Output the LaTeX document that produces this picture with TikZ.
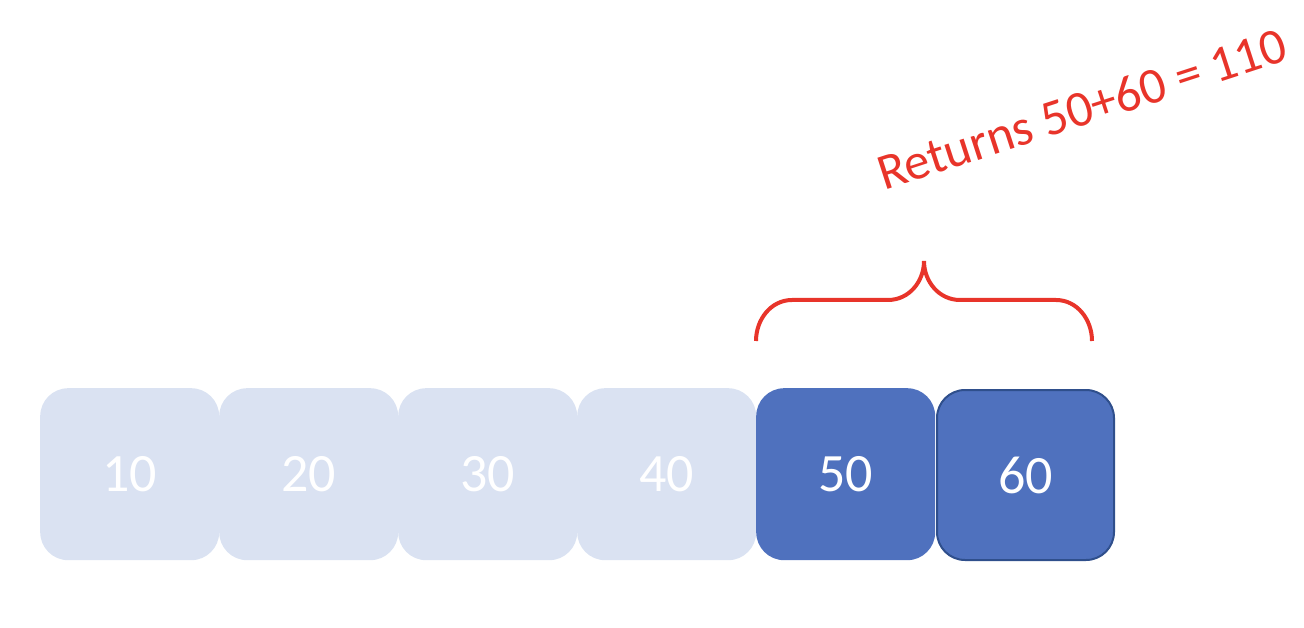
\documentclass[tikz,border=0pt]{standalone}
\usepackage{fontspec}
\setmainfont{Carlito}
\definecolor{lightbox}{HTML}{DAE2F2}
\definecolor{darkbox}{HTML}{4F71BE}
\definecolor{darkedge}{HTML}{2F4F8C}
\definecolor{redc}{HTML}{E8342A}
\begin{document}
\begin{tikzpicture}[x=1pt,y=-1pt,
  cell/.style={rectangle, rounded corners=28pt, minimum width=179pt, minimum height=172pt, inner sep=0pt, text=white, font=\fontsize{54}{60}\selectfont, anchor=north west},
  lightcell/.style={cell, fill=lightbox},
  darkcell/.style={cell, fill=darkbox},
  bracestyle/.style={draw=redc, line width=4pt},
  label/.style={text=redc, font=\fontsize{51}{56}\selectfont, anchor=base west, rotate=18, inner sep=0pt}]
\useasboundingbox (0,0) rectangle (1304,628);
\node[lightcell] (b10) at (40,388) {10};
\node[lightcell] (b20) at (219,388) {20};
\node[lightcell] (b30) at (398,388) {30};
\node[lightcell] (b40) at (577,388) {40};
\node[darkcell] (b50) at (756,388) {50};
\node[darkcell, draw=darkedge, line width=2pt, minimum width=177pt, minimum height=170pt] (b60) at (936,389) {60};
\coordinate (bl) at (756,341);
\coordinate (br) at (1092,341);
\coordinate (tip) at (924,261);
\draw[bracestyle] (bl) to[out=90,in=180] (792,300) -- (888,300) to[out=0,in=-90] (tip)
  to[out=-90,in=180] (960,300) -- (1056,300) to[out=0,in=90] (br);
\node[label] (ret) at (884,191) {Returns 50+60 = 110};
\end{tikzpicture}
\end{document}
